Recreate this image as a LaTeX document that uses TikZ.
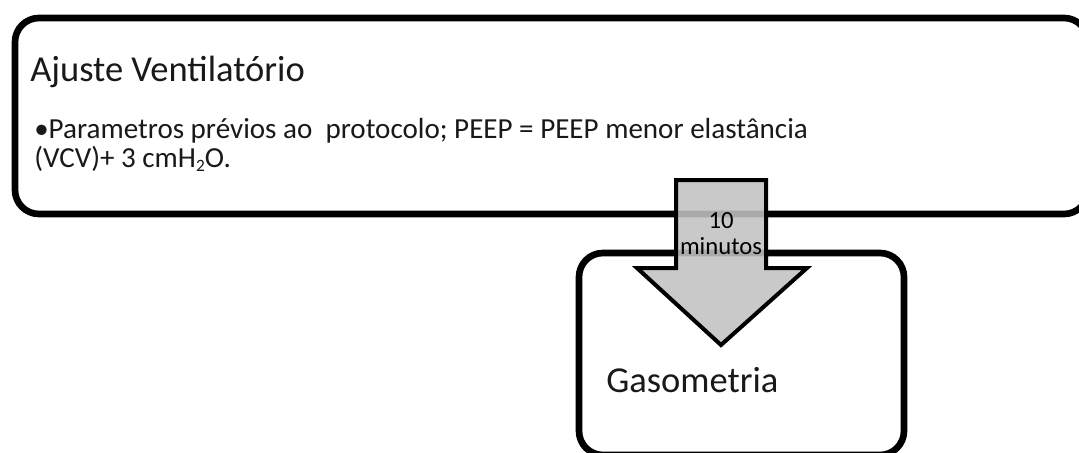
\documentclass[tikz,border=0pt]{standalone}
\usepackage{fontspec}
\setmainfont{Carlito}
\begin{document}
\begin{tikzpicture}[x=0.75pt,y=-0.75pt,
  box/.style={draw=black,line width=5pt,rounded corners=18pt,fill=white},
  txt/.style={inner sep=0pt,anchor=base west,text=black!90},
  arr/.style={draw=black,line width=3pt,fill=black!24,fill opacity=0.88,line join=miter},
  lbl/.style={inner sep=0pt,font=\fontsize{18.5pt}{22pt}\selectfont}]
\useasboundingbox (0,0) rectangle (1079,453);
\draw[box] (15,18) rectangle (1088,214);
\draw[box] (579,253) rectangle (904,455);
\node[txt,font=\fontsize{27.4pt}{32pt}\selectfont] (t1) at (30,82) {Ajuste Ventilatório};
\node[txt,font=\fontsize{21.8pt}{26pt}\selectfont] (t2) at (34,138) {•Parametros prévios ao\ \ protocolo; PEEP = PEEP menor elastância};
\node[txt,font=\fontsize{21.8pt}{26pt}\selectfont] (t3) at (34,167) {(VCV)+ 3 cmH\raisebox{-0.3ex}{\fontsize{13pt}{15pt}\selectfont 2}O.};
\node[txt,font=\fontsize{27.4pt}{32pt}\selectfont] (t4) at (606,392) {Gasometria};
\draw[arr] (676,180) -- (766,180) -- (766,268) -- (807,268) -- (721,345) -- (637,268) -- (676,268) -- cycle;
\node[lbl] (l1) at (721,221) {10};
\node[lbl] (l2) at (721,246) {minutos};
\end{tikzpicture}
\end{document}
